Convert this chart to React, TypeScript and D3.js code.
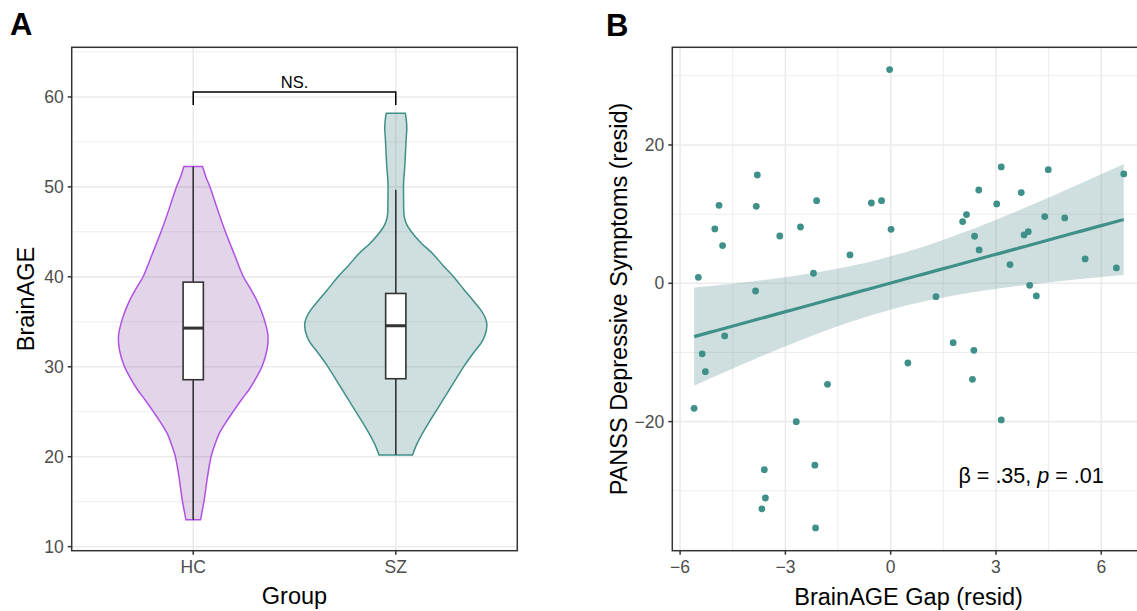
import React from "react";
import * as d3 from "d3";

// ---------- Panel A data ----------
const groups = ["HC", "SZ"];
// violin outline: y value (BrainAGE) and relative half-width (1 = widest violin)
const hcViolinY = [52.26, 51.0, 50.0, 47.5, 45.1, 42.5, 40.04, 38.8, 37.5, 36.2, 34.85, 33.56, 31.9, 30.04, 28.8, 27.5, 26.3, 25.04, 23.8, 22.6, 21.3, 20.1, 18.8, 17.6, 15.1, 14.0, 12.98];
const hcViolinW = [0.102, 0.143, 0.184, 0.266, 0.350, 0.451, 0.549, 0.621, 0.692, 0.747, 0.791, 0.819, 0.81, 0.755, 0.692, 0.615, 0.527, 0.44, 0.357, 0.286, 0.236, 0.198, 0.173, 0.154, 0.119, 0.099, 0.08];
const szViolinY = [58.2, 57.5, 56.5, 55.5, 54.1, 52.3, 50.5, 48.6, 46.7, 45.8, 45.1, 43.8, 42.6, 41.3, 40.04, 38.6, 37.4, 36.3, 35.4, 34.6, 33.4, 32.6, 31.9, 31.0, 30.04, 28.8, 27.5, 26.2, 25.04, 23.8, 22.6, 21.4, 20.2];
const szViolinW = [0.104, 0.115, 0.121, 0.115, 0.108, 0.099, 0.086, 0.086, 0.093, 0.121, 0.165, 0.275, 0.403, 0.516, 0.632, 0.747, 0.846, 0.934, 0.984, 1.0, 0.975, 0.934, 0.879, 0.813, 0.747, 0.67, 0.59, 0.511, 0.44, 0.363, 0.293, 0.231, 0.184];
const boxLower = [12.98, 20.22];
const boxQ1 = [28.56, 28.67];
const boxMedian = [34.3, 34.56];
const boxQ3 = [39.41, 38.15];
const boxUpper = [52.26, 49.67];
const aTicksY = [10, 20, 30, 40, 50, 60];
const aMinorY = [15, 25, 35, 45, 55, 65];
const bracketY = [60.55, 59.1];
const bracketLabel = "NS.";

// ---------- Panel B data ----------
const gapX = [-0.03, -3.8, -4.89, -3.83, -2.11, -0.55, -0.26, -5.01, -2.57, 0.01, -3.16, -4.79, -1.16, -5.48, -2.2, -3.85, -4.73, -5.37, -5.28, -1.8, -5.6, -2.69, -3.6, -2.16, -3.57, -3.67, -2.14,
  3.15, 4.49, 6.64, 2.51, 3.72, 3.02, 2.16, 2.05, 4.39, 4.96, 2.39, 3.8, 3.92, 2.52, 3.4, 5.54, 6.43, 3.96, 4.15, 1.29, 1.78, 2.37, 0.49, 2.33, 3.15];
const depY = [30.9, 15.66, 11.28, 11.13, 11.95, 11.61, 11.95, 7.86, 8.14, 7.81, 6.84, 5.45, 4.1, 0.87, 1.45, -1.11, -7.61, -10.2, -12.77, -14.6, -18.07, -20.0, -26.94, -26.3, -31.04, -32.6, -35.37,
  16.82, 16.43, 15.81, 13.49, 13.11, 11.47, 9.93, 8.92, 9.64, 9.45, 6.8, 6.99, 7.47, 4.82, 2.7, 3.52, 2.22, -0.29, -1.83, -1.93, -8.58, -9.69, -11.52, -13.88, -19.76];
const bTicksX = [-6, -3, 0, 3, 6];
const bMinorX = [-4.5, -1.5, 1.5, 4.5];
const bTicksY = [-20, 0, 20];
const bMinorY = [-30, -10, 10, 30];
const tQuantile = 2.0086; // t(0.975, df = 50)

const FONT = "'Liberation Sans', Arial, Helvetica, sans-serif";
const TEAL = "#3f9088";
const PURPLE = "#b150e3";
const GRID = "#ebebeb";
const AXIS = "#333333";
const TICKTXT = "#4d4d4d";

export default function App() {
  // Panel A geometry
  const aL = 71.7, aR = 517.3, aT = 47.3, aB = 550.7;
  const xA = d3.scalePoint<string>().domain(groups).range([aL, aR]).padding(0.6);
  const yA = d3.scaleLinear().domain([9.55, 65.52]).range([aB, aT]);
  const halfMax = 0.45 * xA.step();
  const boxHalf = 0.05 * xA.step();

  const violins = [
    { g: "HC", ys: hcViolinY, ws: hcViolinW, stroke: PURPLE, fill: "#6c2d91" },
    { g: "SZ", ys: szViolinY, ws: szViolinW, stroke: TEAL, fill: "#0f5a5a" },
  ];

  // Panel B geometry
  const bL = 672.3, bR = 1144.8, bT = 47.3, bB = 550.7;
  const xB = d3.scaleLinear().domain([-6.222, 7.24]).range([bL, bR]);
  const yB = d3.scaleLinear().domain([-38.66, 34.12]).range([bB, bT]);

  // linear model with 95% CI (as geom_smooth(method = "lm"))
  const n = gapX.length;
  const mx = d3.mean(gapX) as number;
  const my = d3.mean(depY) as number;
  let sxx = 0, sxy = 0;
  for (let i = 0; i < n; i++) { sxx += (gapX[i] - mx) ** 2; sxy += (gapX[i] - mx) * (depY[i] - my); }
  const slope = sxy / sxx;
  const icpt = my - slope * mx;
  let sse = 0;
  for (let i = 0; i < n; i++) sse += (depY[i] - icpt - slope * gapX[i]) ** 2;
  const s = Math.sqrt(sse / (n - 2));
  const [xmin, xmax] = d3.extent(gapX) as [number, number];
  const fitX = d3.range(80).map((i) => xmin + ((xmax - xmin) * i) / 79);
  const fit = fitX.map((x) => {
    const f = icpt + slope * x;
    const se = s * Math.sqrt(1 / n + (x - mx) ** 2 / sxx);
    return { x, f, lo: f - tQuantile * se, hi: f + tQuantile * se };
  });
  const ribbon = d3.area<any>().x((d) => xB(d.x)).y0((d) => yB(d.lo)).y1((d) => yB(d.hi))(fit) as string;
  const line = d3.line<any>().x((d) => xB(d.x)).y((d) => yB(d.f))(fit) as string;

  const fmt = d3.format("d");

  return (
    <svg width={1137} height={611} style={{ position: "absolute", left: 0, top: 0, background: "#fff" }} fontFamily={FONT}>
      <rect x={0} y={0} width={1137} height={611} fill="#fff" />
      {/* ===== Panel A ===== */}
      <text x={10} y={35} fontSize={31} fontWeight="bold" fill="#000">A</text>
      <g>
        {aMinorY.map((v) => (
          <line key={"am" + v} x1={aL} x2={aR} y1={yA(v)} y2={yA(v)} stroke={GRID} strokeWidth={0.9} />
        ))}
        {aTicksY.map((v) => (
          <line key={"aM" + v} x1={aL} x2={aR} y1={yA(v)} y2={yA(v)} stroke={GRID} strokeWidth={1.6} />
        ))}
        {groups.map((g) => (
          <line key={"ag" + g} x1={xA(g)} x2={xA(g)} y1={aT} y2={aB} stroke={GRID} strokeWidth={1.6} />
        ))}
        {violins.map((v) => {
          const cx = xA(v.g) as number;
          const pts = v.ys.map((y, i) => [y, v.ws[i]] as [number, number]);
          const path = d3
            .area<[number, number]>()
            .curve(d3.curveCatmullRom)
            .y((d) => yA(d[0]))
            .x0((d) => cx - d[1] * halfMax)
            .x1((d) => cx + d[1] * halfMax)(pts) as string;
          return (
            <g key={"v" + v.g}>
              <path d={path} fill={v.fill} fillOpacity={0.2} stroke="none" />
              <path d={path} fill="none" stroke={v.stroke} strokeWidth={1.5} />
            </g>
          );
        })}
        {groups.map((g, i) => {
          const cx = xA(g) as number;
          return (
            <g key={"b" + g} stroke={AXIS}>
              <line x1={cx} x2={cx} y1={yA(boxUpper[i])} y2={yA(boxQ3[i])} strokeWidth={1.6} />
              <line x1={cx} x2={cx} y1={yA(boxQ1[i])} y2={yA(boxLower[i])} strokeWidth={1.6} />
              <rect x={cx - boxHalf} y={yA(boxQ3[i])} width={2 * boxHalf} height={yA(boxQ1[i]) - yA(boxQ3[i])} fill="#fff" strokeWidth={1.6} />
              <line x1={cx - boxHalf} x2={cx + boxHalf} y1={yA(boxMedian[i])} y2={yA(boxMedian[i])} strokeWidth={3} />
            </g>
          );
        })}
        <path
          d={`M${xA("HC")},${yA(bracketY[1])}V${yA(bracketY[0])}H${xA("SZ")}V${yA(bracketY[1])}`}
          fill="none" stroke="#000" strokeWidth={1.5}
        />
        <text x={((xA("HC") as number) + (xA("SZ") as number)) / 2} y={88.3} textAnchor="middle" fontSize={16.5} fill="#000">{bracketLabel}</text>
        <rect x={aL} y={aT} width={aR - aL} height={aB - aT} fill="none" stroke={AXIS} strokeWidth={1.5} />
        {aTicksY.map((v) => (
          <g key={"at" + v}>
            <line x1={aL - 4} x2={aL} y1={yA(v)} y2={yA(v)} stroke={AXIS} strokeWidth={1.5} />
            <text x={aL - 8} y={yA(v)} dy="0.35em" textAnchor="end" fontSize={17.5} fill={TICKTXT}>{fmt(v)}</text>
          </g>
        ))}
        {groups.map((g) => (
          <g key={"axt" + g}>
            <line x1={xA(g)} x2={xA(g)} y1={aB} y2={aB + 4} stroke={AXIS} strokeWidth={1.5} />
            <text x={xA(g)} y={572.5} textAnchor="middle" fontSize={17.5} fill={TICKTXT}>{g}</text>
          </g>
        ))}
        <text x={(aL + aR) / 2} y={604} textAnchor="middle" fontSize={23.5} fill="#000">Group</text>
        <text transform={`translate(34,${(aT + aB) / 2}) rotate(-90)`} textAnchor="middle" fontSize={23.5} fill="#000">BrainAGE</text>
      </g>

      {/* ===== Panel B ===== */}
      <text x={606} y={36} fontSize={31} fontWeight="bold" fill="#000">B</text>
      <g>
        {bMinorY.map((v) => (
          <line key={"bmy" + v} x1={bL} x2={bR} y1={yB(v)} y2={yB(v)} stroke={GRID} strokeWidth={0.9} />
        ))}
        {bMinorX.map((v) => (
          <line key={"bmx" + v} x1={xB(v)} x2={xB(v)} y1={bT} y2={bB} stroke={GRID} strokeWidth={0.9} />
        ))}
        {bTicksY.map((v) => (
          <line key={"bMy" + v} x1={bL} x2={bR} y1={yB(v)} y2={yB(v)} stroke={GRID} strokeWidth={1.6} />
        ))}
        {bTicksX.map((v) => (
          <line key={"bMx" + v} x1={xB(v)} x2={xB(v)} y1={bT} y2={bB} stroke={GRID} strokeWidth={1.6} />
        ))}
        <path d={ribbon} fill="#6a9c9c" fillOpacity={0.32} stroke="none" />
        <path d={line} fill="none" stroke={TEAL} strokeWidth={3.2} />
        {gapX.map((x, i) => (
          <circle key={"p" + i} cx={xB(x)} cy={yB(depY[i])} r={3.4} fill={TEAL} />
        ))}
        <text x={xB(4)} y={yB(-27.8)} dy="0.35em" textAnchor="middle" fontSize={21.5} fill="#000">
          β = .35, <tspan fontStyle="italic">p</tspan> = .01
        </text>
        <rect x={bL} y={bT} width={bR - bL} height={bB - bT} fill="none" stroke={AXIS} strokeWidth={1.5} />
        {bTicksY.map((v) => (
          <g key={"bty" + v}>
            <line x1={bL - 4} x2={bL} y1={yB(v)} y2={yB(v)} stroke={AXIS} strokeWidth={1.5} />
            <text x={bL - 8} y={yB(v)} dy="0.35em" textAnchor="end" fontSize={17.5} fill={TICKTXT}>{fmt(v)}</text>
          </g>
        ))}
        {bTicksX.map((v) => (
          <g key={"btx" + v}>
            <line x1={xB(v)} x2={xB(v)} y1={bB} y2={bB + 4} stroke={AXIS} strokeWidth={1.5} />
            <text x={xB(v)} y={572.5} textAnchor="middle" fontSize={17.5} fill={TICKTXT}>{fmt(v)}</text>
          </g>
        ))}
        <text x={(bL + bR) / 2} y={605} textAnchor="middle" fontSize={23.5} fill="#000">BrainAGE Gap (resid)</text>
        <text transform={`translate(627,${(bT + bB) / 2}) rotate(-90)`} textAnchor="middle" fontSize={23.5} fill="#000">PANSS Depressive Symptoms (resid)</text>
      </g>
    </svg>
  );
}
